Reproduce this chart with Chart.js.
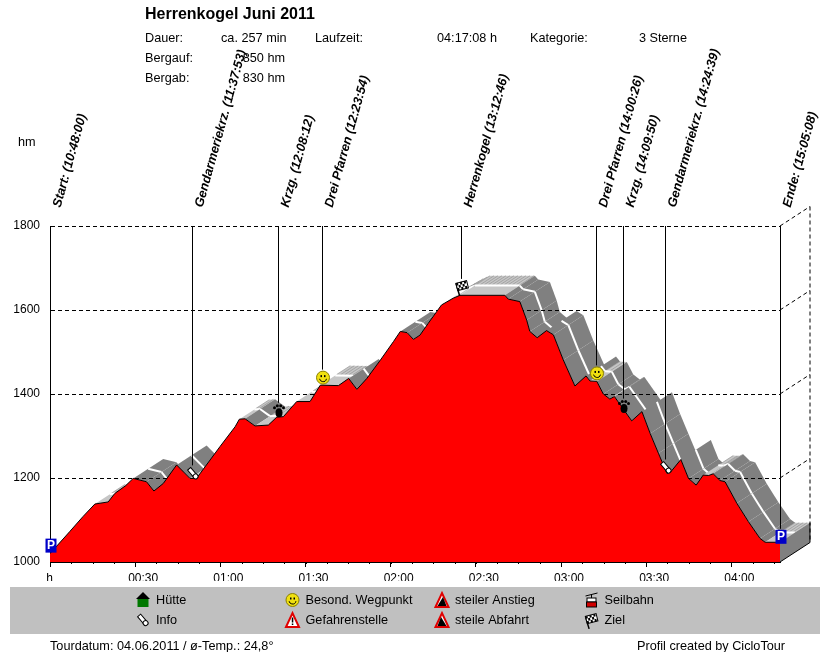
<!DOCTYPE html>
<html>
<head>
<meta charset="utf-8">
<title>Herrenkogel Juni 2011</title>
<script src="https://cdn.jsdelivr.net/npm/chart.js@4"></script>
<style>
  body { margin: 0; background: #fff; }
  canvas { display: block; }
</style>
</head>
<body>
<canvas id="profile" width="830" height="652"></canvas>
<script>
// Hoehenprofil, values
const profileMinutes = [0, 6.9, 11.6, 15.8, 20.5, 22.8, 26.7, 29.3, 34, 36.6, 39.9, 44.6, 49.3, 51.6, 59.9, 65.2, 66.7, 68.7, 72.2, 76.9, 79.9, 82.2, 86.9, 91.6, 95.2, 101.6, 105.2, 108.1, 111.6, 116.4, 121, 123.4, 125.8, 128, 130.3, 133.2, 137.9, 142, 144.4, 160.2, 161.4, 165.5, 167.9, 169, 171.6, 174.9, 177.3, 180.8, 184.9, 188.8, 190.2, 192.6, 194.9, 197.2, 198.8, 204.9, 208.5, 211.4, 214.3, 217.3, 218.7, 222.2, 224.9, 227.6, 230.1, 232, 233.6, 236, 237.8, 241.9, 246, 250.1, 251.9, 257.13];
const profileHeights = [1020, 1072, 1108, 1138, 1143, 1163, 1182, 1199, 1191, 1169, 1187, 1231, 1199, 1199, 1275, 1322, 1340, 1341, 1324, 1326, 1345, 1346, 1382, 1382, 1421, 1420, 1437, 1411, 1437, 1481, 1525, 1549, 1546, 1530, 1540, 1568, 1612, 1628, 1635, 1635, 1626, 1620, 1576, 1549, 1534, 1551, 1541, 1481, 1419, 1443, 1431, 1430, 1400, 1388, 1394, 1336, 1358, 1306, 1259, 1211, 1215, 1244, 1199, 1183, 1207, 1206, 1210, 1194, 1191, 1140, 1096, 1056, 1047, 1047];

const xTickValues = [0, 30, 60, 90, 120, 150, 180, 210, 240];
const xTickLabels = ['h', '00:30', '01:00', '01:30', '02:00', '02:30', '03:00', '03:30', '04:00'];
const yTickValues = [1000, 1200, 1400, 1600, 1800];

const waypointNames = ['Start: (10:48:00)', 'Gendarmeriekrz. (11:37:53)', 'Krzg. (12:08:12)', 'Drei Pfarren (12:23:54)', 'Herrenkogel (13:12:46)', 'Drei Pfarren (14:00:26)', 'Krzg. (14:09:50)', 'Gendarmeriekrz. (14:24:39)', 'Ende: (15:05:08)'];
const waypointMinutes = [0, 49.88, 80.2, 95.9, 144.77, 192.43, 201.83, 216.65, 257.13];
const waypointHeights = [1039, 1211, 1360, 1439, 1655, 1449, 1370, 1225, 1060];
const waypointIcons = ['parking', 'pin', 'paw', 'smiley', 'flag', 'smiley', 'paw', 'pin', 'parking'];

const legendNames = ['Hütte', 'Info', 'Besond. Wegpunkt', 'Gefahrenstelle', 'steiler Anstieg', 'steile Abfahrt', 'Seilbahn', 'Ziel'];
const legendIcons = ['house', 'pin', 'smiley', 'danger', 'ascent', 'descent', 'cable', 'flag'];

const FONT = '"Liberation Sans", Arial, sans-serif';
const DEPTH_X = 30, DEPTH_Y = -19.5; // 3D offset of the back edge

function drawIcon(ctx, kind, x, y) {
  ctx.save();
  ctx.translate(x, y);
  ctx.lineWidth = 1;
  ctx.strokeStyle = '#000';
  if (kind === 'parking') {
    ctx.fillStyle = '#0000c8';
    ctx.fillRect(-5.5, -7, 11, 14);
    ctx.fillStyle = '#fff';
    ctx.font = 'bold 12px ' + FONT;
    ctx.textAlign = 'center';
    ctx.textBaseline = 'middle';
    ctx.fillText('P', 0, 0);
  } else if (kind === 'smiley') {
    ctx.fillStyle = '#f0e010';
    ctx.beginPath(); ctx.arc(0, 0, 6.5, 0, Math.PI * 2); ctx.fill();
    ctx.strokeStyle = '#8a8000';
    ctx.stroke();
    ctx.strokeStyle = '#000';
    ctx.fillStyle = '#000';
    ctx.fillRect(-2.5, -2.5, 1.5, 2);
    ctx.fillRect(1, -2.5, 1.5, 2);
    ctx.beginPath(); ctx.arc(0, 0.5, 3.5, 0.2, Math.PI - 0.2); ctx.stroke();
  } else if (kind === 'paw') {
    ctx.fillStyle = '#000';
    ctx.beginPath(); ctx.ellipse(0, 2, 3.5, 4.5, 0, 0, Math.PI * 2); ctx.fill();
    [[-4.5, -3], [-1.7, -5], [1.7, -5], [4.5, -3]].forEach(function (p) {
      ctx.beginPath(); ctx.arc(p[0], p[1], 1.5, 0, Math.PI * 2); ctx.fill();
    });
  } else if (kind === 'pin') {
    ctx.rotate(-0.7);
    ctx.fillStyle = '#fff';
    ctx.fillRect(-2, -6, 4, 9);
    ctx.strokeRect(-2, -6, 4, 9);
    ctx.beginPath(); ctx.arc(0, 4, 2.5, 0, Math.PI * 2); ctx.fill(); ctx.stroke();
  } else if (kind === 'flag') {
    ctx.rotate(-0.25);
    ctx.lineWidth = 1.5;
    ctx.beginPath(); ctx.moveTo(-4.5, 8); ctx.lineTo(-5, -5); ctx.stroke();
    ctx.lineWidth = 1;
    ctx.fillStyle = '#fff';
    ctx.fillRect(-5, -5, 11, 7.5);
    ctx.strokeRect(-5, -5, 11, 7.5);
    ctx.fillStyle = '#000';
    [[-5, -5], [-1, -5], [3, -5], [-3, -2.5], [1, -2.5], [-5, 0], [-1, 0], [3, 0]].forEach(function (p) {
      ctx.fillRect(p[0], p[1], 2, 2.5);
    });
  } else if (kind === 'house') {
    ctx.fillStyle = '#000';
    ctx.beginPath(); ctx.moveTo(-7, -1); ctx.lineTo(0, -8); ctx.lineTo(7, -1); ctx.closePath(); ctx.fill();
    ctx.fillStyle = '#007800';
    ctx.fillRect(-5.5, -1, 11, 8);
  } else if (kind === 'danger') {
    ctx.fillStyle = '#fff';
    ctx.strokeStyle = '#e00000';
    ctx.lineWidth = 2;
    ctx.beginPath(); ctx.moveTo(-6.5, 7); ctx.lineTo(0, -7); ctx.lineTo(6.5, 7); ctx.closePath(); ctx.fill(); ctx.stroke();
    ctx.fillStyle = '#000';
    ctx.fillRect(-0.7, -2.5, 1.5, 5);
    ctx.fillRect(-0.7, 3.5, 1.5, 1.5);
  } else if (kind === 'ascent' || kind === 'descent') {
    ctx.fillStyle = '#fff';
    ctx.strokeStyle = '#e00000';
    ctx.lineWidth = 2;
    ctx.beginPath(); ctx.moveTo(-6.5, 7); ctx.lineTo(0, -7); ctx.lineTo(6.5, 7); ctx.closePath(); ctx.fill(); ctx.stroke();
    ctx.fillStyle = '#000';
    ctx.beginPath();
    if (kind === 'ascent') { ctx.moveTo(-4.5, 6); ctx.lineTo(4.5, 6); ctx.lineTo(1, -3); } else { ctx.moveTo(-4.5, 6); ctx.lineTo(4.5, 6); ctx.lineTo(-1, -3); }
    ctx.closePath(); ctx.fill();
  } else if (kind === 'cable') {
    ctx.beginPath(); ctx.moveTo(-6, -4); ctx.lineTo(6, -7); ctx.moveTo(0, -5.5); ctx.lineTo(0, -2); ctx.stroke();
    ctx.fillStyle = '#fff';
    ctx.fillRect(-4.5, -2, 9, 4);
    ctx.strokeRect(-4.5, -2, 9, 4);
    ctx.fillStyle = '#d00000';
    ctx.fillRect(-5, 2, 10, 5);
    ctx.strokeRect(-5, 2, 10, 5);
  }
  ctx.restore();
}

function text(ctx, str, x, y, font, align) {
  ctx.font = font;
  ctx.textAlign = align || 'left';
  ctx.textBaseline = 'alphabetic';
  ctx.fillStyle = '#000';
  ctx.fillText(str, x, y);
}

// gray 3D ribbon behind the red front, painted before the grid
const ribbonPlugin = {
  id: 'ribbon',
  beforeDraw(chart) {
    const ctx = chart.ctx, xs = chart.scales.x, ys = chart.scales.y;
    ctx.save();
    const px = profileMinutes.map(function (m) { return xs.getPixelForValue(m); });
    const py = profileHeights.map(function (h) { return ys.getPixelForValue(h); });
    for (let i = 0; i < px.length - 1; i++) {
      const dx = px[i + 1] - px[i], dy = py[i + 1] - py[i];
      if (-dy / dx >= -DEPTH_Y / DEPTH_X) continue; // steep climbs face away from us
      const light = profileHeights[i + 1] >= profileHeights[i] - 2;
      ctx.fillStyle = light ? '#c6c6c6' : '#808080';
      ctx.beginPath();
      ctx.moveTo(px[i], py[i]);
      ctx.lineTo(px[i + 1], py[i + 1]);
      ctx.lineTo(px[i + 1] + DEPTH_X, py[i + 1] + DEPTH_Y);
      ctx.lineTo(px[i] + DEPTH_X, py[i] + DEPTH_Y);
      ctx.closePath();
      ctx.fill();
      if (light) {
        // fine hatching on the flat parts
        ctx.strokeStyle = '#949494';
        ctx.lineWidth = 0.7;
        for (let s = 0; s < dx; s += 4) {
          const hx = px[i] + s, hy = py[i] + dy * s / dx;
          ctx.beginPath();
          ctx.moveTo(hx + DEPTH_X * 0.55, hy + DEPTH_Y * 0.55);
          ctx.lineTo(hx + DEPTH_X, hy + DEPTH_Y);
          ctx.stroke();
        }
      }
      // the path in the middle of the ribbon
      ctx.strokeStyle = '#fff';
      ctx.lineWidth = 2;
      ctx.beginPath();
      ctx.moveTo(px[i] + DEPTH_X / 2, py[i] + DEPTH_Y / 2);
      ctx.lineTo(px[i + 1] + DEPTH_X / 2, py[i + 1] + DEPTH_Y / 2);
      ctx.stroke();
    }
    // end wall
    const last = px.length - 1, base = ys.getPixelForValue(1000);
    ctx.fillStyle = '#808080';
    ctx.strokeStyle = '#000';
    ctx.lineWidth = 1;
    ctx.beginPath();
    ctx.moveTo(px[last], py[last]);
    ctx.lineTo(px[last] + DEPTH_X, py[last] + DEPTH_Y);
    ctx.lineTo(px[last] + DEPTH_X, base + DEPTH_Y);
    ctx.lineTo(px[last], base);
    ctx.closePath();
    ctx.fill();
    ctx.beginPath();
    ctx.moveTo(px[last], base);
    ctx.lineTo(px[last] + DEPTH_X, base + DEPTH_Y);
    ctx.lineTo(px[last] + DEPTH_X, py[last] + DEPTH_Y);
    ctx.stroke();
    // back wall of the grid
    const right = xs.right;
    ctx.setLineDash([4, 3]);
    yTickValues.forEach(function (v) {
      const y = ys.getPixelForValue(v);
      if (v === 1000) return;
      ctx.beginPath();
      ctx.moveTo(right, y);
      ctx.lineTo(right + DEPTH_X, y + DEPTH_Y);
      ctx.stroke();
    });
    ctx.beginPath();
    ctx.moveTo(right + DEPTH_X, ys.top + DEPTH_Y);
    ctx.lineTo(right + DEPTH_X, base + DEPTH_Y);
    ctx.stroke();
    ctx.restore();
  }
};

// waypoints, header, legend and footer
const notesPlugin = {
  id: 'notes',
  afterDraw(chart) {
    const ctx = chart.ctx, xs = chart.scales.x, ys = chart.scales.y;
    ctx.save();
    // minor ticks on the time axis
    ctx.strokeStyle = '#000';
    ctx.lineWidth = 1;
    for (let m = 7.5; m < 257; m += 7.5) {
      const x = Math.round(xs.getPixelForValue(m)) + 0.5;
      ctx.beginPath();
      ctx.moveTo(x, ys.bottom);
      ctx.lineTo(x, ys.bottom + 2);
      ctx.stroke();
    }
    waypointNames.forEach(function (name, i) {
      const x = Math.round(xs.getPixelForValue(waypointMinutes[i])) + 0.5;
      const y = ys.getPixelForValue(waypointHeights[i]);
      ctx.strokeStyle = '#000';
      ctx.beginPath();
      ctx.moveTo(x, ys.top);
      ctx.lineTo(x, y - 8);
      ctx.stroke();
      drawIcon(ctx, waypointIcons[i], x + 0.5, y);
      ctx.save();
      ctx.translate(x + 10, 208);
      ctx.rotate(-74.5 * Math.PI / 180);
      text(ctx, name, 0, 0, 'italic bold 12.75px ' + FONT);
      ctx.restore();
    });

    const small = '12.7px ' + FONT;
    text(ctx, 'hm', 18, 146, small);
    text(ctx, 'Herrenkogel Juni 2011', 145, 19, 'bold 16px ' + FONT);
    text(ctx, 'Dauer:', 145, 42, small);
    text(ctx, 'ca. 257 min', 221, 42, small);
    text(ctx, 'Laufzeit:', 315, 42, small);
    text(ctx, '04:17:08 h', 437, 42, small);
    text(ctx, 'Kategorie:', 530, 42, small);
    text(ctx, '3 Sterne', 639, 42, small);
    text(ctx, 'Bergauf:', 145, 62, small);
    text(ctx, '850 hm', 285, 62, small, 'right');
    text(ctx, 'Bergab:', 145, 82, small);
    text(ctx, '830 hm', 285, 82, small, 'right');

    ctx.fillStyle = '#c0c0c0';
    ctx.fillRect(10, 587, 810, 47);
    legendNames.forEach(function (name, i) {
      const col = Math.floor(i / 2), row = i % 2;
      const ix = 143 + col * 149.5, iy = 600 + row * 20;
      drawIcon(ctx, legendIcons[i], ix, iy);
      text(ctx, name, ix + 13, iy + 4, small);
    });
    text(ctx, 'Tourdatum: 04.06.2011 / ø-Temp.: 24,8°', 50, 650, small);
    text(ctx, 'Profil created by CicloTour', 637, 650, small);
    ctx.restore();
  }
};

new Chart(document.getElementById('profile'), {
  type: 'line',
  data: {
    datasets: [{
      data: profileMinutes.map(function (m, i) { return { x: m, y: profileHeights[i] }; }),
      borderColor: '#000',
      borderWidth: 1,
      backgroundColor: '#ff0000',
      fill: 'origin',
      pointRadius: 0,
      tension: 0
    }]
  },
  options: {
    responsive: false,
    animation: false,
    devicePixelRatio: 1,
    layout: { padding: { top: 226, right: 50, bottom: 71, left: 0 } },
    plugins: { legend: { display: false }, tooltip: { enabled: false } },
    scales: {
      x: {
        type: 'linear',
        min: 0,
        max: 257.13,
        afterBuildTicks(scale) { scale.ticks = xTickValues.map(function (v) { return { value: v }; }); },
        afterFit(scale) { scale.height = 19; },
        grid: { drawOnChartArea: false, tickLength: 5, tickColor: '#000' },
        border: { color: '#000' },
        ticks: {
          autoSkip: false,
          maxRotation: 0,
          color: '#000',
          padding: 4,
          labelOffset: 8,
          font: { family: FONT, size: 12 },
          // "h" sits right under the axis start, the spaces undo the offset
          callback(value) {
            const label = xTickLabels[xTickValues.indexOf(value)];
            return label === 'h' ? 'h     ' : label;
          }
        }
      },
      y: {
        min: 1000,
        max: 1800,
        afterBuildTicks(scale) { scale.ticks = yTickValues.map(function (v) { return { value: v }; }); },
        afterFit(scale) { scale.width = 50; },
        grid: { color: '#000', drawTicks: false, lineWidth: 1 },
        border: { color: '#000', dash: [4, 3] },
        ticks: {
          color: '#000',
          padding: 10,
          font: { family: FONT, size: 12 },
          callback(value) { return String(value); }
        }
      }
    }
  },
  plugins: [ribbonPlugin, notesPlugin]
});
</script>
</body>
</html>
